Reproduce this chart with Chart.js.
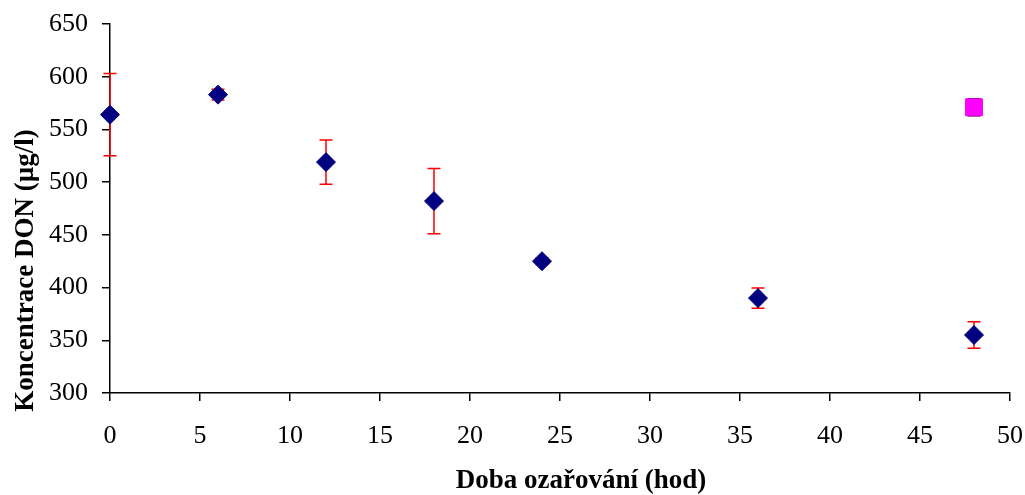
<!DOCTYPE html>
<html>
<head>
<meta charset="utf-8">
<title>Koncentrace DON</title>
<script src="https://cdn.jsdelivr.net/npm/chart.js@4/dist/chart.umd.min.js"></script>
<style>
  html, body { margin: 0; padding: 0; background: #ffffff; }
  #wrap { width: 1025px; height: 495px; }
</style>
</head>
<body>
<div id="wrap"><canvas id="chart" width="1025" height="495"></canvas></div>
<script>
// Irradiation time (hours) and measured DON concentration (µg/l) with its error
const hours = [0, 6, 12, 18, 24, 36, 48];
const donValues = [564, 583, 519, 482, 425, 390, 355];
const donErrors = [39, 5, 21, 31, 3, 9.5, 12.5];

// Non-irradiated control sample
const controlHours = [48];
const controlValues = [571];
const controlErrors = [8];

// Axis ranges and tick steps
const xRange = [0, 50];
const xStep = 5;
const yRange = [300, 650];
const yStep = 50;

const xTitle = 'Doba ozařování (hod)';
const yTitle = 'Koncentrace DON (µg/l)';

const serif = "'Liberation Serif', 'Times New Roman', serif";

function toPoints(xs, ys) {
  return xs.map((x, i) => ({ x: x, y: ys[i] }));
}

// Vertical error bars with caps, drawn under the markers
const errorBarPlugin = {
  id: 'errorBars',
  beforeDatasetsDraw(chart) {
    const ctx = chart.ctx;
    const xs = chart.scales.x;
    const ys = chart.scales.y;
    chart.data.datasets.forEach((ds) => {
      if (!ds.errorBars) return;
      ctx.save();
      ctx.strokeStyle = ds.errorColor;
      ctx.lineWidth = 1.5;
      ds.data.forEach((p, i) => {
        const err = ds.errorBars[i];
        const px = xs.getPixelForValue(p.x);
        const top = ys.getPixelForValue(p.y + err);
        const bot = ys.getPixelForValue(p.y - err);
        const cap = 6.5;
        ctx.beginPath();
        ctx.moveTo(px, top);
        ctx.lineTo(px, bot);
        ctx.moveTo(px - cap, top);
        ctx.lineTo(px + cap, top);
        ctx.moveTo(px - cap, bot);
        ctx.lineTo(px + cap, bot);
        ctx.stroke();
      });
      ctx.restore();
    });
  }
};

// Axis titles placed relative to the plot area
const axisTitlePlugin = {
  id: 'axisTitles',
  afterDraw(chart) {
    const ctx = chart.ctx;
    const area = chart.chartArea;
    ctx.save();
    ctx.fillStyle = '#000000';
    ctx.font = "bold 27px " + serif;
    ctx.textAlign = 'center';
    ctx.textBaseline = 'alphabetic';
    ctx.fillText(xTitle, (area.left + area.right) / 2 + 21, 488);
    ctx.translate(33, (area.top + area.bottom) / 2 + 62);
    ctx.rotate(-Math.PI / 2);
    ctx.fillText(yTitle, 0, 0);
    ctx.restore();
  }
};

const tickFont = { family: serif, size: 26 };

new Chart(document.getElementById('chart'), {
  type: 'scatter',
  data: {
    datasets: [
      {
        label: 'DON',
        data: toPoints(hours, donValues),
        errorBars: donErrors,
        errorColor: '#ff0000',
        pointStyle: 'rectRot',
        pointRadius: 9.5,
        pointBackgroundColor: '#000080',
        pointBorderColor: '#000080',
        pointBorderWidth: 1,
        showLine: false,
        clip: false
      },
      {
        label: 'Kontrola',
        data: toPoints(controlHours, controlValues),
        errorBars: controlErrors,
        errorColor: '#000000',
        pointStyle: 'rect',
        pointRadius: 12,
        pointBackgroundColor: '#ff00ff',
        pointBorderColor: '#ff00ff',
        pointBorderWidth: 1,
        showLine: false,
        clip: false
      }
    ]
  },
  options: {
    responsive: false,
    animation: false,
    events: [],
    layout: { padding: { top: 24, right: 15, bottom: 0, left: 0 } },
    plugins: {
      legend: { display: false },
      tooltip: { enabled: false }
    },
    scales: {
      x: {
        type: 'linear',
        min: xRange[0],
        max: xRange[1],
        afterFit(scale) {
          scale.height = 102;
          scale.paddingLeft = 0;
          scale.paddingRight = 0;
        },
        border: { display: true, color: '#000000', width: 1.5 },
        grid: { display: true, drawOnChartArea: false, drawTicks: true, tickLength: 8, color: '#000000', lineWidth: 1.5 },
        ticks: { stepSize: xStep, color: '#000000', font: tickFont, padding: 20, maxRotation: 0 }
      },
      y: {
        type: 'linear',
        min: yRange[0],
        max: yRange[1],
        afterFit(scale) {
          scale.width = 110;
          scale.paddingTop = 0;
          scale.paddingBottom = 0;
        },
        border: { display: true, color: '#000000', width: 1.5 },
        grid: { display: true, drawOnChartArea: false, drawTicks: true, tickLength: 8, color: '#000000', lineWidth: 1.5 },
        ticks: { stepSize: yStep, color: '#000000', font: tickFont, padding: 14 }
      }
    }
  },
  plugins: [errorBarPlugin, axisTitlePlugin]
});
</script>
</body>
</html>
